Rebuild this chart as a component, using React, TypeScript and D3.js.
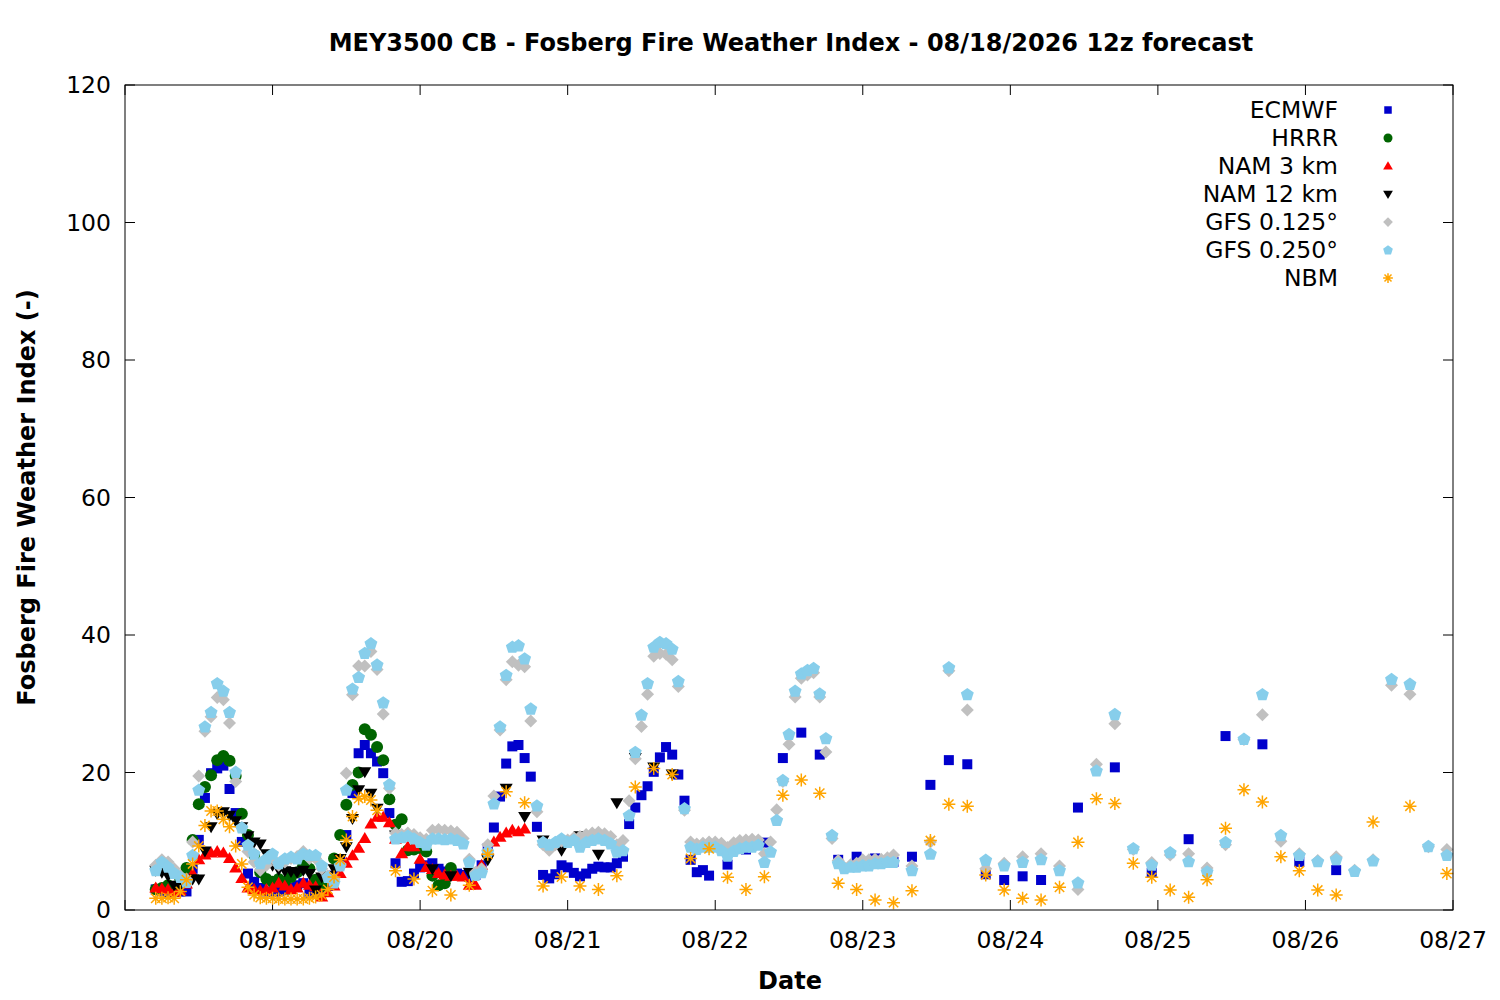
import React from "react";
import * as d3 from "d3";

// forecast hours are counted from 08/18 00:00 local time
const dayLabels = ["08/18", "08/19", "08/20", "08/21", "08/22", "08/23", "08/24", "08/25", "08/26", "08/27"];
const yTicks = [0, 20, 40, 60, 80, 100, 120];

const modelNames = ["ECMWF", "HRRR", "NAM 3 km", "NAM 12 km", "GFS 0.125°", "GFS 0.250°", "NBM"];

// ECMWF: hourly from h5 to h95, 3-hourly to h149, 6-hourly to h197
const ecmwfHourly = [
  3.0, 2.8, 2.6, 2.6, 2.7, 2.7, 6.0, 10.2, 16.3, 19.9, 20.6, 21.0, 17.6, 14.1, 9.9, 5.3, 4.1, 3.2, 2.7, 2.6,
  2.7, 2.9, 3.2, 3.6, 3.9, 2.5, 2.4, 2.6, 3.5, 5.0, 7.3, 10.9, 17.0, 22.8, 24.0, 22.8, 21.6, 19.9, 14.1, 6.8,
  4.1, 4.2, 5.3, 6.2, 6.5, 6.8, 6.0, 5.6, 5.5, 5.3, 5.1, 4.8, 5.1, 6.5, 9.0, 12.0, 16.5, 21.3, 23.8, 24.0,
  22.1, 19.4, 12.1, 5.1, 4.6, 5.2, 6.5, 6.2, 5.4, 4.9, 5.3, 6.0, 6.3, 6.2, 6.2, 6.8, 7.75, 12.5, 14.9, 16.7,
  18.0, 20.1, 22.2, 23.7, 22.6, 19.7, 15.9, 7.3, 5.5, 5.8, 5.0,
];
const ecmwf3h = [6.6, 8.8, 9.8, 22.1, 25.8, 22.6, 7.3, 7.75, 7.5, 7.0, 7.75, 18.2, 21.8, 21.2, 5.2, 4.36, 4.9, 4.36];
const ecmwf6h = [14.9, 20.75, 5.4, 10.3, 25.3, 24.1, 7.0, 5.8];

// HRRR: hourly h5..h53
const hrrrHourly = [
  3.0, 3.2, 3.6, 3.4, 4.5, 6.1, 10.2, 15.4, 17.9, 19.6, 21.8, 22.4, 21.7, 19.5, 14.0, 10.9, 8.0, 5.5, 4.5, 4.1,
  4.5, 4.1, 4.8, 5.5, 6.5, 6.0, 4.4, 3.5, 4.8, 7.5, 10.9, 15.3, 18.2, 20.0, 26.3, 25.5, 23.7, 21.8, 16.1, 12.4,
  13.2, 8.7, 8.8, 9.0, 8.5, 5.0, 3.6, 3.9, 6.1,
];

// NAM 3 km: hourly h5..h65
const nam3Hourly = [
  3.2, 3.1, 3.0, 2.6, 2.8, 3.8, 5.3, 7.3, 8.0, 8.3, 8.5, 8.3, 7.5, 6.1, 4.6, 3.2, 3.0, 2.8, 3.0, 3.2,
  3.9, 3.5, 3.0, 3.2, 3.9, 3.6, 3.4, 1.9, 2.5, 3.5, 5.3, 6.8, 7.9, 9.0, 10.4, 12.5, 13.5, 13.5, 12.7, 10.3,
  8.2, 9.2, 9.2, 7.4, 6.2, 5.9, 5.3, 5.1, 4.9, 4.9, 4.8, 3.6, 3.6, 6.5, 8.7, 9.9, 10.6, 11.2, 11.6, 11.4,
  11.8,
];

// NAM 12 km: hourly h5..h41, 3-hourly h44..h89
const nam12Hourly = [
  5.8, 5.5, 5.0, 3.6, 3.5, 4.4, 4.5, 4.5, 8.6, 12.1, 14.0, 14.3, 13.8, 13.0, 12.1, 10.8, 9.9, 9.6, 8.2, 6.5,
  5.9, 5.7, 5.6, 5.5, 5.8, 5.3, 2.9, 4.8, 5.0, 6.0, 7.5, 9.2, 13.3, 17.5, 20.1, 17.0, 14.8,
];
const nam12_3h = [10.9, 10.5, 6.0, 5.0, 5.5, 7.3, 17.7, 13.6, 10.2, 8.7, 10.8, 8.1, 15.6, 22.2, 20.8, 19.8];

// GFS 0.125: hourly h5..h125, 3-hourly h128..h215
const gfs125Hourly = [
  6.5, 7.3, 7.0, 6.0, 5.0, 4.5, 9.9, 19.5, 26.0, 28.1, 30.9, 30.6, 27.2, 18.7, 12.0, 8.5, 7.0, 5.8, 6.5, 7.5,
  6.5, 7.0, 7.5, 7.8, 8.5, 7.5, 7.5, 6.0, 5.0, 4.5, 6.5, 19.9, 31.3, 35.5, 35.5, 37.6, 35.0, 28.5, 17.7, 11.2,
  11.0, 11.2, 11.0, 10.5, 10.3, 11.6, 11.7, 11.6, 11.5, 11.3, 10.4, 7.4, 5.5, 6.0, 9.5, 16.6, 26.2, 33.5, 36.1, 35.6,
  35.4, 27.5, 14.3, 9.5, 8.7, 9.5, 10.0, 10.2, 10.5, 10.7, 11.0, 11.2, 11.3, 11.1, 10.7, 9.5, 10.1, 15.9, 22.0, 26.7,
  31.4, 36.9, 37.3, 37.2, 36.4, 32.5, 14.5, 9.9, 9.6, 9.7, 9.9, 9.9, 9.7, 9.1, 9.8, 10.1, 10.2, 10.3, 10.2, 8.2,
  9.9, 14.6, 18.7, 24.1, 31.0, 33.7, 34.2, 34.5, 31.0, 23.0, 10.4, 7.2, 6.2, 6.6, 6.8, 7.3, 7.3, 7.4, 7.4, 7.6,
  8.0,
];
const gfs125_3h = [
  6.4, 9.9, 34.8, 29.1, 6.0, 6.8, 7.75, 8.2, 6.4, 3.0, 21.2, 27.1, 8.8, 6.9, 8.0,
  8.2, 6.1, 9.5, 24.8, 28.4, 10.0, 8.2, 7.2, 7.75, 5.8, 7.3, 32.7, 31.4, 9.2, 8.8,
];

// GFS 0.250: hourly h5..h125, 3-hourly h128..h215
const gfs250Hourly = [
  5.8, 7.0, 6.3, 5.4, 4.8, 4.1, 8.0, 17.5, 26.7, 28.8, 33.0, 31.9, 28.8, 20.1, 12.0, 9.5, 8.2, 6.8, 7.5, 8.2,
  6.8, 7.5, 7.75, 7.5, 8.2, 8.0, 8.0, 6.5, 4.8, 4.0, 6.5, 17.5, 32.2, 33.9, 37.4, 38.8, 35.7, 30.2, 18.3, 10.4,
  10.6, 10.8, 10.4, 9.9, 9.5, 10.4, 10.4, 10.3, 10.4, 10.2, 9.7, 7.0, 5.1, 5.5, 8.5, 15.5, 26.7, 34.2, 38.3, 38.5,
  36.6, 29.3, 15.2, 9.9, 9.5, 9.9, 10.4, 9.9, 10.2, 9.2, 9.9, 10.2, 10.4, 10.2, 9.7, 8.5, 8.7, 13.8, 23.0, 28.4,
  33.0, 38.3, 39.0, 38.8, 38.0, 33.3, 14.8, 9.2, 8.9, 9.2, 9.2, 9.2, 8.7, 7.9, 8.6, 9.0, 9.2, 9.2, 9.5, 7.0,
  8.5, 13.1, 18.9, 25.6, 31.9, 34.4, 34.9, 35.2, 31.5, 25.0, 10.9, 6.8, 6.1, 6.3, 6.3, 6.5, 6.5, 6.8, 6.8, 7.0,
  7.0,
];
const gfs250_3h = [
  5.8, 8.2, 35.3, 31.4, 7.3, 6.5, 7.0, 7.4, 5.8, 4.0, 20.3, 28.5, 9.0, 6.6, 8.4,
  7.1, 5.6, 9.9, 24.9, 31.4, 10.9, 8.0, 7.1, 7.4, 5.7, 7.2, 33.6, 32.9, 9.3, 8.0,
];

// NBM: hourly h5..h41, 3-hourly h44..h197, 6-hourly h203..h215
const nbmHourly = [
  1.7, 1.7, 1.8, 1.7, 2.7, 4.4, 6.7, 9.3, 12.3, 14.4, 14.4, 13.2, 12.1, 9.3, 6.7, 3.3, 2.2, 1.8, 1.7, 1.7,
  1.6, 1.6, 1.6, 1.6, 1.6, 1.7, 1.9, 2.2, 3.0, 4.8, 7.3, 10.2, 13.6, 16.2, 16.5, 16.0, 14.5,
];
const nbm3h = [
  5.7, 4.5, 2.8, 2.2, 3.6, 8.1, 17.2, 15.6, 3.5, 4.8, 3.5, 3.0, 5.0, 17.9, 20.6, 19.7, 7.5, 8.9, 4.75, 3.0,
  4.85, 16.7, 18.9, 17.0, 3.9, 3.0, 1.45, 1.07, 2.8, 10.1, 15.4, 15.1, 5.1, 2.9, 1.7, 1.45, 3.3, 9.85, 16.2, 15.5,
  6.8, 4.75, 2.9, 1.85, 4.4, 11.9, 17.5, 15.7, 7.75, 5.7, 2.9, 2.2,
];
const nbm6h = [12.8, 15.1, 5.3];

type Seg = { start: number; step: number; values: number[] };
type Pt = { h: number; v: number };

const toPoints = (segs: Seg[]): Pt[] =>
  segs.flatMap((s) => s.values.map((v, i) => ({ h: s.start + i * s.step, v })));

const series = [
  { name: modelNames[0], color: "#0000cc", shape: "square", pts: toPoints([
    { start: 5, step: 1, values: ecmwfHourly },
    { start: 98, step: 3, values: ecmwf3h },
    { start: 155, step: 6, values: ecmwf6h },
  ]) },
  { name: modelNames[1], color: "#006400", shape: "circle", pts: toPoints([{ start: 5, step: 1, values: hrrrHourly }]) },
  { name: modelNames[2], color: "#ff0000", shape: "triUp", pts: toPoints([{ start: 5, step: 1, values: nam3Hourly }]) },
  { name: modelNames[3], color: "#000000", shape: "triDown", pts: toPoints([
    { start: 5, step: 1, values: nam12Hourly },
    { start: 44, step: 3, values: nam12_3h },
  ]) },
  { name: modelNames[4], color: "#c0c0c0", shape: "diamond", pts: toPoints([
    { start: 5, step: 1, values: gfs125Hourly },
    { start: 128, step: 3, values: gfs125_3h },
  ]) },
  { name: modelNames[5], color: "#87ceeb", shape: "pentagon", pts: toPoints([
    { start: 5, step: 1, values: gfs250Hourly },
    { start: 128, step: 3, values: gfs250_3h },
  ]) },
  { name: modelNames[6], color: "#ffa500", shape: "asterisk", pts: toPoints([
    { start: 5, step: 1, values: nbmHourly },
    { start: 44, step: 3, values: nbm3h },
    { start: 203, step: 6, values: nbm6h },
  ]) },
];

// marker outlines, centred on 0,0, scaled by k
function markerPath(shape: string, k: number): string {
  const p = d3.path();
  if (shape === "square") {
    p.rect(-5 * k, -5 * k, 10 * k, 10 * k);
  } else if (shape === "circle") {
    p.arc(0, 0, 6 * k, 0, Math.PI * 2);
  } else if (shape === "triUp") {
    p.moveTo(0, -6.5 * k); p.lineTo(6.5 * k, 4.5 * k); p.lineTo(-6.5 * k, 4.5 * k); p.closePath();
  } else if (shape === "triDown") {
    p.moveTo(0, 6.5 * k); p.lineTo(6.5 * k, -4.5 * k); p.lineTo(-6.5 * k, -4.5 * k); p.closePath();
  } else if (shape === "diamond") {
    p.moveTo(0, -6.5 * k); p.lineTo(6.5 * k, 0); p.lineTo(0, 6.5 * k); p.lineTo(-6.5 * k, 0); p.closePath();
  } else if (shape === "pentagon") {
    for (let i = 0; i < 5; i++) {
      const a = -Math.PI / 2 + (i * 2 * Math.PI) / 5;
      const px = 6.8 * k * Math.cos(a), py = 6.8 * k * Math.sin(a) + 0.6 * k;
      if (i === 0) p.moveTo(px, py); else p.lineTo(px, py);
    }
    p.closePath();
  } else {
    const r = 6.5 * k, d = r * 0.72;
    p.moveTo(-r, 0); p.lineTo(r, 0);
    p.moveTo(0, -r); p.lineTo(0, r);
    p.moveTo(-d, -d); p.lineTo(d, d);
    p.moveTo(-d, d); p.lineTo(d, -d);
  }
  return p.toString();
}

function Marker({ shape, color, x, y, k = 1 }: { shape: string; color: string; x: number; y: number; k?: number }) {
  const stroke = shape === "asterisk";
  return (
    <path
      d={markerPath(shape, k)}
      transform={`translate(${x},${y})`}
      fill={stroke ? "none" : color}
      stroke={stroke ? color : "none"}
      strokeWidth={stroke ? 1.5 : 0}
    />
  );
}

const W = 1500, H = 1000;
const margin = { left: 125, right: 47, top: 85, bottom: 90 };
const t0 = new Date(2026, 7, 18, 0, 0, 0);

export default function App() {
  const x = d3
    .scaleTime()
    .domain([t0, d3.timeHour.offset(t0, 216)])
    .range([margin.left, W - margin.right]);
  const y = d3.scaleLinear().domain([0, 120]).range([H - margin.bottom, margin.top]);
  const xAt = (h: number) => x(d3.timeHour.offset(t0, h));
  const dayTicks = dayLabels.map((_, i) => d3.timeDay.offset(t0, i));
  const font = "DejaVu Sans, Verdana, sans-serif";
  const x0 = margin.left, x1 = W - margin.right, y0 = H - margin.bottom, y1 = margin.top;
  const tick = 10;
  const legX = 1338, legMX = 1388, legY = 110, legDY = 28;
  const fs = 23.5;

  return (
    <svg width={W} height={H} style={{ position: "absolute", left: 0, top: 0, background: "#fff" }} fontFamily={font}>
      <rect x={0} y={0} width={W} height={H} fill="#fff" />
      <text x={791} y={51} textAnchor="middle" fontSize={24} fontWeight="bold">
        MEY3500 CB - Fosberg Fire Weather Index - 08/18/2026 12z forecast
      </text>

      {/* y ticks, both sides */}
      {yTicks.map((v) => (
        <g key={`y${v}`}>
          <line x1={x0} x2={x0 + tick} y1={y(v)} y2={y(v)} stroke="#000" />
          <line x1={x1} x2={x1 - tick} y1={y(v)} y2={y(v)} stroke="#000" />
          <text x={x0 - 14} y={y(v)} dy="0.36em" textAnchor="end" fontSize={fs}>{v}</text>
        </g>
      ))}
      {/* x ticks, top and bottom */}
      {dayTicks.map((d, i) => (
        <g key={`x${i}`}>
          <line x1={x(d)} x2={x(d)} y1={y0} y2={y0 - tick} stroke="#000" />
          <line x1={x(d)} x2={x(d)} y1={y1} y2={y1 + tick} stroke="#000" />
          <text x={x(d)} y={y0 + 38} textAnchor="middle" fontSize={fs}>{dayLabels[i]}</text>
        </g>
      ))}

      <text x={790} y={989} textAnchor="middle" fontSize={24} fontWeight="bold">Date</text>
      <text
        transform={`translate(35,${(y0 + y1) / 2}) rotate(-90)`}
        textAnchor="middle"
        fontSize={24}
        fontWeight="bold"
      >
        Fosberg Fire Weather Index (-)
      </text>

      {series.map((s) => (
        <g key={s.name}>
          {s.pts.map((p, i) => (
            <Marker key={i} shape={s.shape} color={s.color} x={xAt(p.h)} y={y(p.v)} />
          ))}
        </g>
      ))}

      {series.map((s, i) => (
        <g key={`leg${i}`}>
          <text x={legX} y={legY + i * legDY} dy="0.36em" textAnchor="end" fontSize={fs}>{s.name}</text>
          <Marker shape={s.shape} color={s.color} x={legMX} y={legY + i * legDY} k={0.75} />
        </g>
      ))}

      <rect x={x0} y={y1} width={x1 - x0} height={y0 - y1} fill="none" stroke="#000" strokeWidth={1} />
    </svg>
  );
}
